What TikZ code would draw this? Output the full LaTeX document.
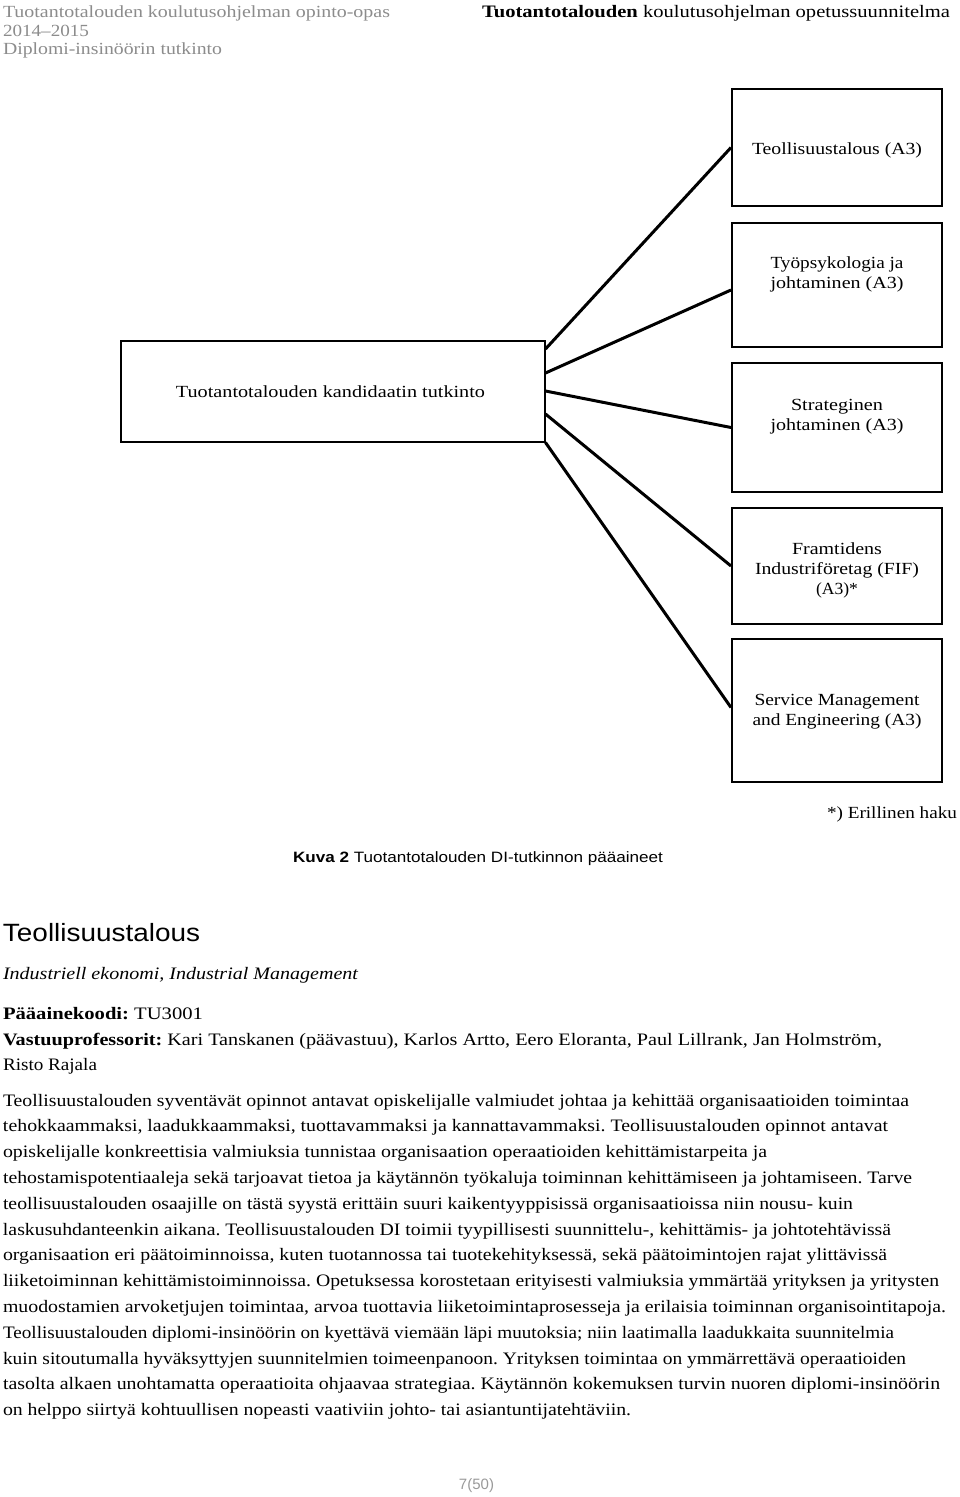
\documentclass[tikz,border=0pt]{standalone}
\usepackage{fontspec}
\setmainfont{Liberation Serif}
\setsansfont{Liberation Sans}
\usetikzlibrary{calc}
\frenchspacing
\newcommand\fw[2]{\resizebox{#1pt}{\height}{#2}}
\definecolor{hdrgray}{HTML}{8C8C8C}
\definecolor{pagegray}{HTML}{9A9A9A}
\begin{document}
\begin{tikzpicture}[x=1pt,y=-1pt,
  box/.style={draw, line width=2pt, inner sep=0pt, minimum width=210pt},
  conn/.style={line width=3pt},
  txt/.style={inner sep=0pt, outer sep=0pt, anchor=base west},
  boxtxt/.style={inner sep=0pt, outer sep=0pt, anchor=base, align=center, font=\fontsize{17}{20}\selectfont},
  body/.style={txt, font=\fontsize{17.5}{20}\selectfont},
  hdr/.style={txt, text=hdrgray, font=\fontsize{17}{18}\selectfont}]
\fill[white] (0,0) rectangle (960,1497);
\useasboundingbox (0,0) rectangle (960,1497);

% header
\node[hdr] (h1) at (3,17) {\fw{387}{Tuotantotalouden koulutusohjelman opinto-opas}};
\node[hdr] (h2) at (3,36) {\fw{86}{2014–2015}};
\node[hdr] (h3) at (3,54) {\fw{219}{Diplomi-insinöörin tutkinto}};
\node[body] (h4) at (482,17) {\fw{468}{\textbf{Tuotantotalouden} koulutusohjelman opetussuunnitelma}};

% boxes
\node[box, minimum width=424pt, minimum height=101pt] (L) at (332.5,391) {};
\node[box, minimum height=117pt] (B1) at (837,147.5) {};
\node[box, minimum height=124pt] (B2) at (837,285) {};
\node[box, minimum height=129pt] (B3) at (837,427.5) {};
\node[box, minimum height=116pt] (B4) at (837,566) {};
\node[box, minimum height=143pt] (B5) at (837,710.5) {};

% box texts (base = baseline of the last line)
\node[boxtxt] (tL) at (330.5,397) {\fw{309}{Tuotantotalouden kandidaatin tutkinto}};
\node[boxtxt] (t1) at (837,154) {\fw{170}{Teollisuustalous (A3)}};
\node[boxtxt] (t2) at (837,288) {\fw{133}{Työpsykologia ja}\\\fw{133}{johtaminen (A3)}};
\node[boxtxt] (t3) at (837,430) {\fw{92}{Strateginen}\\\fw{133}{johtaminen (A3)}};
\node[boxtxt] (t4) at (837,594) {\fw{90}{Framtidens}\\\fw{164}{Industriföretag (FIF)}\\\fw{42}{(A3)*}};
\node[boxtxt] (t5) at (837,725) {\fw{165}{Service Management}\\\fw{169}{and Engineering (A3)}};

% connectors
\draw[conn] ([yshift=42pt]L.east) -- (B1.west);
\draw[conn] ([yshift=18pt]L.east) -- ([yshift=-5pt]B2.west);
\draw[conn] (L.east) -- (B3.west);
\draw[conn] ([yshift=-23pt]L.east) -- (B4.west);
\draw[conn] (L.south east) -- ([yshift=3pt]B5.west);

% note and caption
\node[txt, anchor=base east, font=\fontsize{17}{20}\selectfont] (note) at (957,818) {\fw{130}{*) Erillinen haku}};
\node[txt, font=\sffamily\fontsize{15}{18}\selectfont] (cap) at (293,862) {\fw{370}{\textbf{Kuva 2} Tuotantotalouden DI-tutkinnon pääaineet}};

% section
\node[txt, font=\sffamily\fontsize{25}{30}\selectfont] (sec) at (3,941) {\fw{197}{Teollisuustalous}};
\node[txt, font=\itshape\fontsize{17.5}{20}\selectfont] (sub) at (3,979) {\fw{355}{Industriell ekonomi, Industrial Management}};
\node[body] (code) at (3,1019) {\fw{200}{\textbf{Pääainekoodi:} TU3001}};
\node[body] (prof1) at (3,1045) {\fw{879}{\textbf{Vastuuprofessorit:} Kari Tanskanen (päävastuu), Karlos Artto, Eero Eloranta, Paul Lillrank, Jan Holmström,}};
\node[body] (prof2) at (3,1070) {\fw{94}{Risto Rajala}};

% paragraph
\node[body] (p1) at (3,1106) {\fw{906}{Teollisuustalouden syventävät opinnot antavat opiskelijalle valmiudet johtaa ja kehittää organisaatioiden toimintaa}};
\node[body] (p2) at (3,1131.8) {\fw{885}{tehokkaammaksi, laadukkaammaksi, tuottavammaksi ja kannattavammaksi. Teollisuustalouden opinnot antavat}};
\node[body] (p3) at (3,1157.6) {\fw{764}{opiskelijalle konkreettisia valmiuksia tunnistaa organisaation operaatioiden kehittämistarpeita ja}};
\node[body] (p4) at (3,1183.4) {\fw{909}{tehostamispotentiaaleja sekä tarjoavat tietoa ja käytännön työkaluja toiminnan kehittämiseen ja johtamiseen. Tarve}};
\node[body] (p5) at (3,1209.2) {\fw{850}{teollisuustalouden osaajille on tästä syystä erittäin suuri kaikentyyppisissä organisaatioissa niin nousu- kuin}};
\node[body] (p6) at (3,1235) {\fw{888}{laskusuhdanteenkin aikana. Teollisuustalouden DI toimii tyypillisesti suunnittelu-, kehittämis- ja johtotehtävissä}};
\node[body] (p7) at (3,1260.8) {\fw{884}{organisaation eri päätoiminnoissa, kuten tuotannossa tai tuotekehityksessä, sekä päätoimintojen rajat ylittävissä}};
\node[body] (p8) at (3,1286.6) {\fw{936}{liiketoiminnan kehittämistoiminnoissa. Opetuksessa korostetaan erityisesti valmiuksia ymmärtää yrityksen ja yritysten}};
\node[body] (p9) at (3,1312.4) {\fw{943}{muodostamien arvoketjujen toimintaa, arvoa tuottavia liiketoimintaprosesseja ja erilaisia toiminnan organisointitapoja.}};
\node[body] (p10) at (3,1338.2) {\fw{891}{Teollisuustalouden diplomi-insinöörin on kyettävä viemään läpi muutoksia; niin laatimalla laadukkaita suunnitelmia}};
\node[body] (p11) at (3,1364) {\fw{903}{kuin sitoutumalla hyväksyttyjen suunnitelmien toimeenpanoon. Yrityksen toimintaa on ymmärrettävä operaatioiden}};
\node[body] (p12) at (3,1389.8) {\fw{937}{tasolta alkaen unohtamatta operaatioita ohjaavaa strategiaa. Käytännön kokemuksen turvin nuoren diplomi-insinöörin}};
\node[body] (p13) at (3,1415.6) {\fw{628}{on helppo siirtyä kohtuullisen nopeasti vaativiin johto- tai asiantuntijatehtäviin.}};

% page number
\node[txt, anchor=base, text=pagegray, font=\sffamily\fontsize{15}{18}\selectfont] (pg) at (476.5,1489) {7(50)};
\end{tikzpicture}
\end{document}
